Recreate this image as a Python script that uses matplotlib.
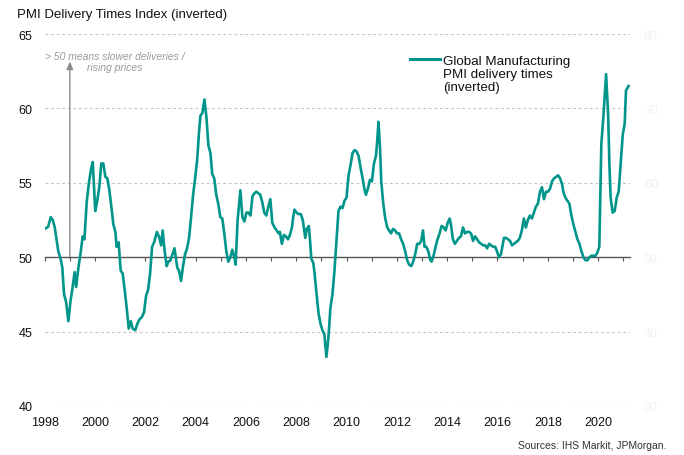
import matplotlib
matplotlib.use("Agg")
import matplotlib.pyplot as plt
from matplotlib.lines import Line2D

plt.rcParams['font.family'] = ['Liberation Sans', 'DejaVu Sans']

# ---- data (decimal years, inverted delivery-times index) ----
dates = [1998.0, 1998.14, 1998.24, 1998.32, 1998.4, 1998.48, 1998.54, 1998.63, 1998.7, 1998.77,
         1998.85, 1998.94, 1999.03, 1999.11, 1999.19, 1999.25, 1999.34, 1999.43, 1999.51, 1999.58,
         1999.67, 1999.75, 1999.83, 1999.91, 2000.01, 2000.09, 2000.17, 2000.25, 2000.33, 2000.41,
         2000.49, 2000.57, 2000.65, 2000.73, 2000.81, 2000.86, 2000.94, 2001.02, 2001.1, 2001.18,
         2001.26, 2001.34, 2001.42, 2001.5, 2001.6, 2001.68, 2001.76, 2001.87, 2001.95, 2002.03,
         2002.11, 2002.19, 2002.27, 2002.35, 2002.46, 2002.54,
         2002.63, 2002.69, 2002.77, 2002.85, 2002.92, 2003.0, 2003.08, 2003.16, 2003.21, 2003.27,
         2003.34, 2003.42, 2003.5, 2003.58, 2003.66, 2003.74, 2003.82, 2003.9, 2003.98, 2004.06,
         2004.14, 2004.19, 2004.27, 2004.35, 2004.43, 2004.51, 2004.59, 2004.66, 2004.74, 2004.82,
         2004.9, 2004.98, 2005.06, 2005.14, 2005.22, 2005.3, 2005.38, 2005.46, 2005.54, 2005.59,
         2005.67, 2005.78, 2005.86, 2005.94, 2006.02, 2006.1, 2006.18, 2006.26, 2006.34, 2006.41,
         2006.49, 2006.57, 2006.65, 2006.73, 2006.81, 2006.89, 2006.97, 2007.05,
         2007.14, 2007.22, 2007.3, 2007.35, 2007.43, 2007.51, 2007.59, 2007.67, 2007.75, 2007.83,
         2007.88, 2007.93, 2008.01, 2008.09, 2008.18, 2008.26, 2008.31, 2008.36, 2008.42, 2008.5,
         2008.55, 2008.6, 2008.68, 2008.73, 2008.81, 2008.89, 2008.97, 2009.04, 2009.12, 2009.2,
         2009.28, 2009.36, 2009.44, 2009.52, 2009.6, 2009.68, 2009.76, 2009.84, 2009.92, 2010.0,
         2010.08, 2010.16, 2010.24, 2010.32, 2010.4, 2010.48, 2010.56, 2010.64, 2010.72, 2010.77,
         2010.85, 2010.93, 2011.01, 2011.09, 2011.17, 2011.22, 2011.27, 2011.33, 2011.38, 2011.46,
         2011.54, 2011.62,
         2011.69, 2011.77, 2011.85, 2011.93, 2012.01, 2012.09, 2012.17, 2012.25, 2012.33, 2012.41,
         2012.49, 2012.57, 2012.65, 2012.73, 2012.81, 2012.89, 2012.97, 2013.04, 2013.1, 2013.17,
         2013.25, 2013.33, 2013.38, 2013.46, 2013.54, 2013.62, 2013.7, 2013.78, 2013.86, 2013.94,
         2014.02, 2014.1, 2014.15, 2014.23, 2014.31, 2014.39, 2014.47, 2014.55, 2014.63, 2014.71,
         2014.79, 2014.87, 2014.95, 2015.03, 2015.11, 2015.19, 2015.27, 2015.35, 2015.43, 2015.51,
         2015.59, 2015.67, 2015.75, 2015.83, 2015.91, 2015.98, 2016.06, 2016.14,
         2016.26, 2016.34, 2016.42, 2016.5, 2016.58, 2016.66, 2016.73, 2016.81, 2016.89, 2016.97,
         2017.05, 2017.13, 2017.21, 2017.29, 2017.37, 2017.45, 2017.53, 2017.61, 2017.69, 2017.77,
         2017.85, 2017.93, 2018.01, 2018.09, 2018.17, 2018.25, 2018.33, 2018.41, 2018.49, 2018.57,
         2018.62, 2018.7, 2018.78, 2018.86, 2018.94, 2019.02, 2019.1, 2019.18, 2019.26, 2019.34,
         2019.42, 2019.5, 2019.58, 2019.66, 2019.74, 2019.82, 2019.9, 2019.97, 2020.05, 2020.13,
         2020.21, 2020.32, 2020.4, 2020.45, 2020.5, 2020.58, 2020.66, 2020.74, 2020.82, 2020.9,
         2020.98, 2021.06, 2021.11, 2021.21]

values = [51.9, 52.05, 52.7, 52.5, 52.0, 51.1, 50.4, 49.9, 49.3, 47.5,
          47.0, 45.7, 47.1, 48.0, 49.0, 48.0, 49.3, 50.3, 51.4, 51.2,
          53.7, 54.9, 55.8, 56.4, 53.1, 53.8, 54.7, 56.3, 56.3, 55.4,
          55.3, 54.5, 53.4, 52.2, 51.7, 50.7, 51.0, 49.1, 48.9, 47.8,
          46.6, 45.2, 45.7, 45.2, 45.1, 45.5, 45.8, 46.0, 46.3, 47.4,
          47.8, 48.9, 50.7, 51.0, 51.7, 51.4,
          50.8, 51.8, 50.4, 49.4, 49.7, 49.8, 50.2, 50.6, 50.0, 49.3,
          49.1, 48.4, 49.4, 50.2, 50.6, 51.3, 52.7, 54.2, 55.3, 56.5,
          58.5, 59.5, 59.7, 60.6, 59.4, 57.5, 57.0, 55.6, 55.3, 54.2,
          53.6, 52.7, 52.6, 51.6, 50.4, 49.7, 50.0, 50.5, 50.0, 49.5,
          52.5, 54.5, 52.7, 52.4, 53.0, 53.0, 52.8, 54.1, 54.3, 54.4,
          54.3, 54.2, 53.7, 53.0, 52.8, 53.4, 53.9, 52.3,
          52.0, 51.8, 51.6, 51.7, 50.9, 51.5, 51.4, 51.2, 51.5, 52.0,
          52.7, 53.2, 53.0, 52.9, 52.9, 52.5, 51.9, 51.3, 51.9, 52.1,
          51.1, 49.9, 49.6, 48.9, 47.5, 46.2, 45.5, 45.1, 44.8, 43.3,
          44.6, 46.6, 47.5, 49.1, 51.1, 53.1, 53.4, 53.3, 53.8, 54.0,
          55.5, 56.2, 57.0, 57.2, 57.1, 56.8, 56.0, 55.3, 54.5, 54.2,
          54.6, 55.2, 55.1, 56.3, 56.8, 57.8, 59.1, 57.4, 55.1, 53.6,
          52.6, 52.0,
          51.8, 51.6, 51.9, 51.8, 51.6, 51.6, 51.2, 50.9, 50.4, 49.8,
          49.5, 49.4, 49.7, 50.2, 50.9, 50.9, 51.1, 51.8, 50.7, 50.7,
          50.4, 49.8, 49.7, 50.1, 50.7, 51.2, 51.6, 52.1, 52.0, 51.8,
          52.3, 52.6, 52.2, 51.2, 50.9, 51.1, 51.3, 51.4, 52.0, 51.6,
          51.7, 51.7, 51.6, 51.1, 51.4, 51.2, 51.0, 50.9, 50.8, 50.8,
          50.6, 50.9, 50.8, 50.7, 50.7, 50.4, 50.0, 50.2,
          51.3, 51.3, 51.2, 51.1, 50.8, 50.9, 51.0, 51.1, 51.3, 51.8,
          52.6, 52.0, 52.5, 52.8, 52.6, 53.0, 53.4, 53.6, 54.4, 54.7,
          53.9, 54.4, 54.4, 54.6, 55.1, 55.3, 55.4, 55.5, 55.3, 54.9,
          54.4, 54.0, 53.8, 53.6, 52.8, 52.2, 51.7, 51.2, 50.9, 50.4,
          50.0, 49.8, 49.8, 50.0, 50.1, 50.1, 50.1, 50.3, 50.7, 57.6,
          59.4, 62.3, 59.6, 56.3, 54.0, 53.0, 53.1, 54.0, 54.4, 56.3,
          58.2, 59.0, 61.2, 61.5]

year_ticks = list(range(1998, 2021, 2))
left_ticks = [40, 45, 50, 55, 60, 65]
right_ticks = [30, 40, 50, 60, 70, 80]
grid_levels = [40, 45, 55, 60, 65]

title = "PMI Delivery Times Index (inverted)"
series_label = "Global Manufacturing\nPMI delivery times\n(inverted)"
note_1 = "> 50 means slower deliveries /"
note_2 = "rising prices"
source = "Sources: IHS Markit, JPMorgan."

TEAL = '#00958b'
W, H = 684, 456

fig = plt.figure(figsize=(6.84, 4.56), dpi=100)
ax = fig.add_axes([44.7 / W, 1 - 407 / H, (630 - 44.7) / W, (407 - 35) / H])
ax.set_xlim(1998, 2021.27)
ax.set_ylim(40, 65)

for g in grid_levels:
    ax.axhline(g, color='#c4c4c4', lw=0.8, ls=(0, (2.5, 2.5)), zorder=1)

ax.plot(dates, values, color=TEAL, lw=1.9, zorder=3, solid_joinstyle='round')

for s in ['top', 'right', 'left']:
    ax.spines[s].set_visible(False)
ax.spines['bottom'].set_position(('data', 50))
ax.spines['bottom'].set_color('#555555')
ax.spines['bottom'].set_linewidth(1.0)
ax.set_xticks(range(1998, 2022))
ax.tick_params(axis='x', direction='out', length=3, width=0.8, color='#555555', labelbottom=False)

ax.set_yticks(left_ticks)
ax.tick_params(axis='y', length=0, pad=9, labelsize=9, labelcolor='#111111')

sec = ax.secondary_xaxis(0)
sec.set_xticks(year_ticks)
sec.spines['bottom'].set_visible(False)
sec.tick_params(length=0, pad=7, labelsize=9, labelcolor='#111111')

secy = ax.secondary_yaxis('right', functions=(lambda v: 2 * v - 50, lambda v: (v + 50) / 2))
secy.set_yticks(right_ticks)
secy.spines['right'].set_visible(False)
secy.tick_params(length=0, pad=10, labelsize=9, labelcolor='#f1f1f1')

# arrow annotation
ax.annotate('', xy=(1999.0, 63.15), xytext=(1999.0, 50.0),
            arrowprops=dict(arrowstyle='-|>,head_length=0.45,head_width=0.2', color='#8c8c8c', lw=1.0,
                            shrinkA=0, shrinkB=0), zorder=2)
fig.text(45 / W, 1 - 57 / H, note_1, fontsize=7.5, style='italic', color='#9a9a9a',
         ha='left', va='center')
fig.text(115 / W, 1 - 68 / H, note_2, fontsize=7.5, style='italic', color='#9a9a9a',
         ha='center', va='center')

# legend key and label
fig.add_artist(Line2D([410 / W, 440 / W], [1 - 60 / H, 1 - 60 / H], color=TEAL, lw=2.2,
                      transform=fig.transFigure))
fig.text(443 / W, 1 - 55.5 / H, series_label, fontsize=9.6, color='#111111', ha='left', va='top',
         linespacing=1.14)

fig.text(17 / W, 1 - 15 / H, title, fontsize=9.5, color='#111111', ha='left', va='center')
fig.text(666 / W, 1 - 446 / H, source, fontsize=7.5, color='#333333', ha='right', va='center')

fig.savefig('out.png', dpi=100)
